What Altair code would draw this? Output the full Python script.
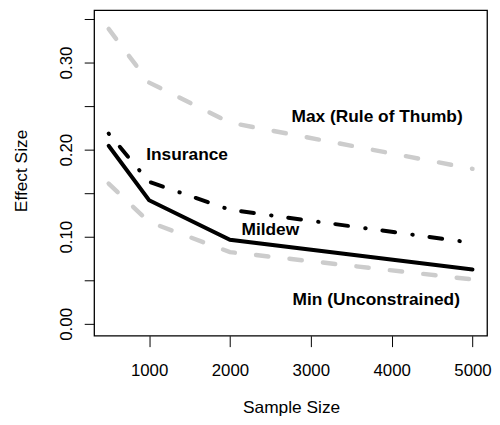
import altair as alt
import pandas as pd

sample_sizes = [500, 1000, 2000, 5000]
max_rule = [0.3386, 0.277, 0.231, 0.178]
insurance = [0.2185, 0.163, 0.131, 0.093]
mildew = [0.2045, 0.142, 0.0966, 0.0625]
min_uncon = [0.161, 0.117, 0.0824, 0.051]

label_text = ["Max (Rule of Thumb)", "Insurance", "Mildew", "Min (Unconstrained)"]
label_x = [3820, 1470, 2500, 3810]
label_y = [0.2369, 0.1937, 0.1075, 0.0271]

rows = []
for name, vals in [("max", max_rule), ("ins", insurance), ("mil", mildew), ("min", min_uncon)]:
    for s, v in zip(sample_sizes, vals):
        rows.append({"series": name, "n": s, "es": v})
df = pd.DataFrame(rows)
labels = pd.DataFrame({"text": label_text, "x": label_x, "y": label_y})

FONT = "Liberation Sans"
xscale = alt.Scale(domain=[320, 5180], nice=False, zero=False)
yscale = alt.Scale(domain=[-0.0136, 0.3602], nice=False, zero=False)

xaxis = alt.Axis(
    title="Sample Size", values=[1000, 2000, 3000, 4000, 5000], format="d",
    domain=False, grid=False, tickColor="black", tickSize=11, tickWidth=1,
    labelFont=FONT, labelFontSize=17, labelColor="black", labelPadding=16,
    labelFlush=False, labelOverlap=False,
    titleFont=FONT, titleFontSize=17.5, titleFontWeight="normal", titleColor="black",
    titleX=199, titleY=73, titleBaseline="middle", titleAlign="center",
)
yaxis = alt.Axis(
    title="Effect Size", values=[0, 0.05, 0.1, 0.15, 0.2, 0.25, 0.3, 0.35],
    labelExpr="round(datum.value*100) % 10 == 0 ? format(datum.value, '.2f') : ''",
    domain=False, grid=False, tickColor="black", tickSize=10, tickWidth=1,
    labelFont=FONT, labelFontSize=17, labelColor="black", labelPadding=13,
    labelAngle=270, labelAlign="center", labelBaseline="alphabetic",
    labelFlush=False, labelOverlap=False,
    titleFont=FONT, titleFontSize=17.5, titleFontWeight="normal", titleColor="black",
    titleAngle=270, titleX=-73, titleY=162, titleBaseline="middle", titleAlign="center",
)

base = alt.Chart(df)
enc = dict(
    x=alt.X("n:Q", scale=xscale, axis=xaxis),
    y=alt.Y("es:Q", scale=yscale, axis=yaxis),
    order="n:Q",
)

gray = "#cccccc"
max_line = base.transform_filter("datum.series == 'max'").mark_line(
    color=gray, strokeWidth=4.5, strokeDash=[12.5, 21.5], strokeCap="round", clip=True
).encode(**enc)
min_line = base.transform_filter("datum.series == 'min'").mark_line(
    color=gray, strokeWidth=4.5, strokeDash=[12.5, 21.5], strokeCap="round", clip=True
).encode(**enc)
ins_line = base.transform_filter("datum.series == 'ins'").mark_line(
    color="black", strokeWidth=4, strokeDash=[0.5, 17, 13, 17.5], strokeCap="round", clip=True
).encode(**enc)
mil_line = base.transform_filter("datum.series == 'mil'").mark_line(
    color="black", strokeWidth=4, strokeCap="round", clip=True
).encode(**enc)

text = alt.Chart(labels).mark_text(
    font=FONT, fontSize=17.5, fontWeight="bold", color="black",
    align="center", baseline="middle"
).encode(
    x=alt.X("x:Q", scale=xscale),
    y=alt.Y("y:Q", scale=yscale),
    text="text:N",
)

chart = alt.layer(max_line, min_line, ins_line, mil_line, text).properties(
    width=397, height=329,
    autosize=alt.AutoSizeParams(type="none"),
    padding={"left": 87, "top": 0, "right": 5, "bottom": 80},
    background="white",
).configure_view(stroke="black", strokeWidth=1.3)

chart.save("out.html", embed_options={"renderer": "svg", "actions": False})
